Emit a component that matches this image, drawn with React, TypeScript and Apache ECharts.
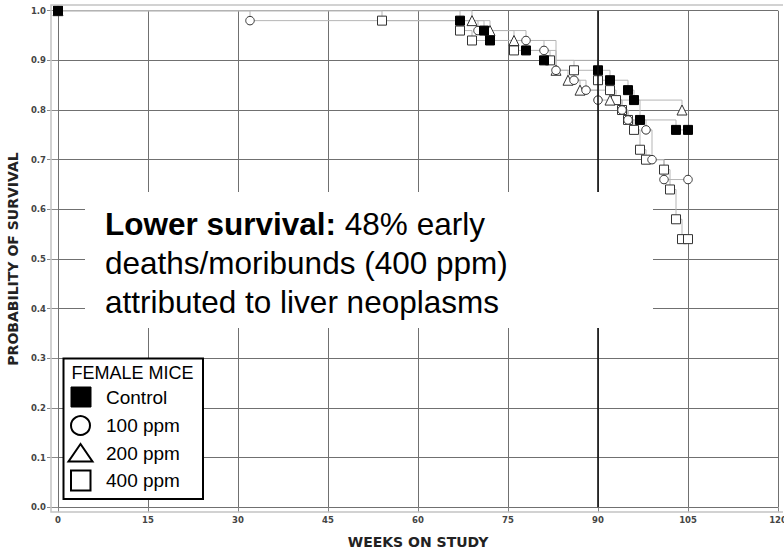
import React, { useEffect, useRef } from "react";
import * as echarts from "echarts";

// ---- Data (Kaplan–Meier survival, female mice) ----
const controlWeeks = [0, 67, 71, 72, 78, 81, 90, 92, 95, 96, 97, 103, 105];
const controlSurv = [1.0, 0.98, 0.96, 0.94, 0.92, 0.9, 0.88, 0.86, 0.84, 0.82, 0.78, 0.76, 0.76];

const ppm100Weeks = [0, 32, 70, 78, 81, 83, 86, 88, 90, 94, 95, 98, 99, 101, 105];
const ppm100Surv = [1.0, 0.98, 0.96, 0.94, 0.92, 0.88, 0.86, 0.84, 0.82, 0.8, 0.78, 0.76, 0.7, 0.66, 0.66];

const ppm200Weeks = [0, 69, 72, 76, 83, 85, 87, 92, 104];
const ppm200Surv = [1.0, 0.98, 0.96, 0.94, 0.88, 0.86, 0.84, 0.82, 0.8];

const ppm400Weeks = [0, 54, 67, 69, 76, 82, 86, 90, 92, 93, 94, 95, 96, 97, 98, 101, 102, 103, 104, 105];
const ppm400Surv = [1.0, 0.98, 0.96, 0.94, 0.92, 0.9, 0.88, 0.86, 0.84, 0.82, 0.8, 0.78, 0.76, 0.72, 0.7, 0.68, 0.64, 0.58, 0.54, 0.54];

const groupNames = ["Control", "100 ppm", "200 ppm", "400 ppm"];
const legendTitle = "FEMALE MICE";
const xTicks = [0, 15, 30, 45, 60, 75, 90, 105, 120];
const yTicks = [0, 0.1, 0.2, 0.3, 0.4, 0.5, 0.6, 0.7, 0.8, 0.9, 1.0];
const highlightWeek = [90];
const xAxisTitle = "WEEKS ON STUDY";
const yAxisTitle = "PROBABILITY OF SURVIVAL";
const noteBold = "Lower survival:";
const noteLines = [" 48% early", "deaths/moribunds (400 ppm)", "attributed to liver neoplasms"];

const pairs = (w: number[], s: number[]) => w.map((x, i) => [x, s[i]]);

export default function App() {
  const ref = useRef<HTMLDivElement>(null);
  useEffect(() => {
    document.body.style.margin = "0";
    document.body.style.overflow = "hidden";
    if (!ref.current) return;
    const chart = echarts.init(ref.current, null, { renderer: "svg" });
    const stepLine = { color: "#b5b5b5", width: 1 };
    const openItem = { color: "#ffffff", borderColor: "#333", borderWidth: 1 };
    const font = "Liberation Sans, Arial, sans-serif";
    const tickFont = "DejaVu Sans, sans-serif";

    const legendY = [397, 425.5, 453.5, 480.5];
    const noteSize = 31.5;

    chart.setOption({
      animation: false,
      backgroundColor: "#ffffff",
      grid: {
        left: 58,
        right: 6,
        top: 10.7,
        bottom: 43.7,
        containLabel: false,
        outerBoundsMode: "none",
      },
      xAxis: {
        type: "value",
        min: xTicks[0],
        max: xTicks[xTicks.length - 1],
        interval: 15,
        name: xAxisTitle,
        nameLocation: "middle",
        nameGap: 28,
        nameTextStyle: { fontFamily: tickFont, fontWeight: "bold", fontSize: 14, color: "#222" },
        axisLine: { show: false },
        axisTick: { show: true, length: 5, lineStyle: { color: "#888" } },
        axisLabel: { fontFamily: tickFont, fontWeight: "bold", fontSize: 8.5, color: "#444", margin: 8 },
        splitLine: { show: true, lineStyle: { color: "#707070", width: 1 } },
      },
      yAxis: {
        type: "value",
        min: yTicks[0],
        max: yTicks[yTicks.length - 1],
        interval: 0.1,
        name: yAxisTitle,
        nameLocation: "middle",
        nameGap: 35,
        nameTextStyle: { fontFamily: tickFont, fontWeight: "bold", fontSize: 14, color: "#222" },
        axisLine: { show: false },
        axisTick: { show: true, length: 11, lineStyle: { color: "#888" } },
        axisLabel: {
          fontFamily: tickFont,
          fontWeight: "bold",
          fontSize: 8.5,
          color: "#444",
          margin: 12,
          formatter: (v: number) => v.toFixed(1),
        },
        splitLine: { show: true, lineStyle: { color: "#707070", width: 1 } },
      },
      series: [
        {
          name: groupNames[3],
          type: "line",
          step: "end",
          data: pairs(ppm400Weeks, ppm400Surv),
          symbol: "rect",
          symbolSize: 9,
          showAllSymbol: true,
          lineStyle: stepLine,
          itemStyle: openItem,
          markLine: {
            silent: true,
            symbol: "none",
            label: { show: false },
            lineStyle: { color: "#111", width: 1.6, type: "solid" },
            data: highlightWeek.map((w) => ({ xAxis: w })),
          },
        },
        {
          name: groupNames[2],
          type: "line",
          step: "end",
          data: pairs(ppm200Weeks, ppm200Surv),
          symbol: "triangle",
          symbolSize: 10,
          showAllSymbol: true,
          lineStyle: stepLine,
          itemStyle: openItem,
        },
        {
          name: groupNames[1],
          type: "line",
          step: "end",
          data: pairs(ppm100Weeks, ppm100Surv),
          symbol: "circle",
          symbolSize: 8.5,
          showAllSymbol: true,
          lineStyle: stepLine,
          itemStyle: openItem,
        },
        {
          name: groupNames[0],
          type: "line",
          step: "end",
          data: pairs(controlWeeks, controlSurv),
          symbol: "rect",
          symbolSize: 9,
          showAllSymbol: true,
          lineStyle: stepLine,
          itemStyle: { color: "#000", borderColor: "#000", borderWidth: 1 },
        },
      ],
      graphic: [
        {
          type: "polyline",
          z: 50,
          silent: true,
          shape: { points: [[783, 5], [51, 5], [51, 512], [783, 512]] },
          style: { fill: "none", stroke: "#c4c4c4", lineWidth: 1.5 },
        },
        {
          type: "rect",
          z: 100,
          silent: true,
          shape: { x: 85, y: 192, width: 568, height: 136 },
          style: { fill: "#ffffff", stroke: "none" },
        },
        {
          type: "text",
          z: 101,
          silent: true,
          x: 105,
          y: 224,
          style: {
            text: "{b|" + noteBold + "}" + noteLines[0],
            fontFamily: font,
            fontSize: noteSize,
            fill: "#000",
            verticalAlign: "middle",
            rich: { b: { fontFamily: font, fontSize: noteSize, fontWeight: "bold", fill: "#000" } },
          },
        },
        {
          type: "text",
          z: 101,
          silent: true,
          x: 105,
          y: 263,
          style: { text: noteLines[1], fontFamily: font, fontSize: noteSize, fill: "#000", verticalAlign: "middle" },
        },
        {
          type: "text",
          z: 101,
          silent: true,
          x: 105,
          y: 301.5,
          style: { text: noteLines[2], fontFamily: font, fontSize: noteSize, fill: "#000", verticalAlign: "middle" },
        },
        // Legend box
        {
          type: "rect",
          z: 100,
          silent: true,
          shape: { x: 63.5, y: 358.5, width: 139.5, height: 140.5 },
          style: { fill: "#ffffff", stroke: "#000", lineWidth: 2 },
        },
        {
          type: "text",
          z: 101,
          silent: true,
          x: 71.5,
          y: 373,
          style: { text: legendTitle, fontFamily: font, fontSize: 18, fill: "#000", verticalAlign: "middle" },
        },
        {
          type: "rect",
          z: 101,
          silent: true,
          shape: { x: 71, y: legendY[0] - 10, width: 20, height: 20 },
          style: { fill: "#000", stroke: "#000", lineWidth: 1 },
        },
        {
          type: "circle",
          z: 101,
          silent: true,
          shape: { cx: 80.5, cy: legendY[1], r: 9.5 },
          style: { fill: "#fff", stroke: "#000", lineWidth: 2 },
        },
        {
          type: "polygon",
          z: 101,
          silent: true,
          shape: {
            points: [
              [80.5, legendY[2] - 9.5],
              [68.5, legendY[2] + 8],
              [92.5, legendY[2] + 8],
            ],
          },
          style: { fill: "#fff", stroke: "#000", lineWidth: 2 },
        },
        {
          type: "rect",
          z: 101,
          silent: true,
          shape: { x: 71, y: legendY[3] - 10, width: 19.5, height: 20 },
          style: { fill: "#fff", stroke: "#000", lineWidth: 2 },
        },
        ...groupNames.map((g, i) => ({
          type: "text",
          z: 101,
          silent: true,
          x: 106,
          y: legendY[i],
          style: { text: g, fontFamily: font, fontSize: 19, fill: "#000", verticalAlign: "middle" },
        })),
      ],
    });
    return () => chart.dispose();
  }, []);
  return <div ref={ref} style={{ width: 784, height: 551, overflow: "hidden" }} />;
}
